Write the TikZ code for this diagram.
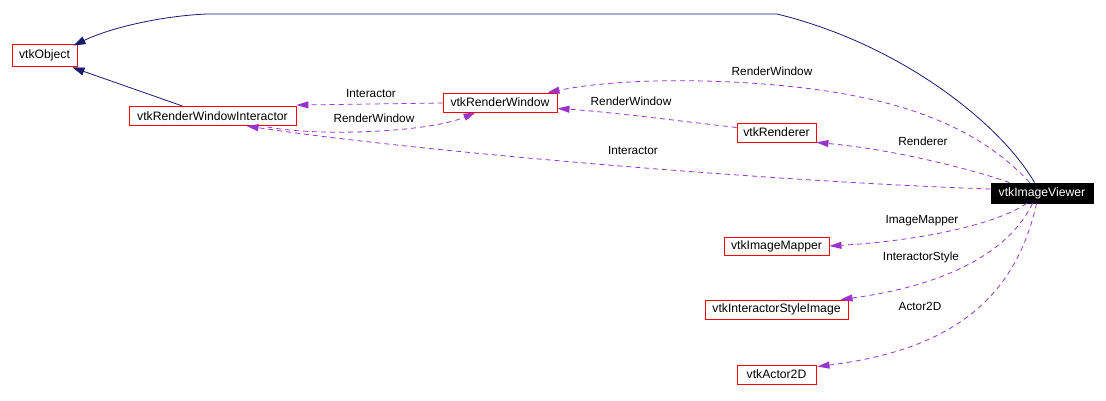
\documentclass[tikz,border=0pt]{standalone}
\usepackage{fontspec}
\setmainfont{Liberation Sans}
\usetikzlibrary{arrows.meta,calc}
\definecolor{navyc}{RGB}{25,25,112}
\definecolor{purpc}{RGB}{154,50,205}
\tikzset{
  cls/.style={draw=red, line width=0.9pt, inner sep=0pt, fill=white, text=black, font=\fontsize{12.2}{14}\selectfont},
  lbl/.style={inner sep=0pt, font=\fontsize{11.8}{14}\selectfont},
  inh/.style={draw=navyc, line width=0.8pt, -{Triangle[length=12pt,width=8pt]}},
  use/.style={draw=purpc, line width=0.8pt, dash pattern=on 5pt off 4pt, -{Triangle[length=12pt,width=7pt]}}
}
\begin{document}
\begin{tikzpicture}[x=1pt,y=-1pt]
\useasboundingbox (0,0) rectangle (1106,400);
% nodes
\node[cls, minimum width=65pt, minimum height=22pt] (obj) at (44.5,55) {vtkObject};
\node[cls, minimum width=167pt, minimum height=19pt] (rwi) at (212.5,116) {vtkRenderWindowInteractor};
\node[cls, minimum width=114pt, minimum height=19pt] (rw) at (500,102.5) {vtkRenderWindow};
\node[cls, minimum width=79pt, minimum height=19pt] (ren) at (776.5,132.5) {vtkRenderer};
\node[cls, draw=black, fill=black, text=white, minimum width=102pt, minimum height=20pt] (iv) at (1042,193) {vtkImageViewer};
\node[cls, minimum width=105pt, minimum height=18pt] (im) at (776.5,246) {vtkImageMapper};
\node[cls, minimum width=143pt, minimum height=19pt] (isi) at (776.5,309.5) {vtkInteractorStyleImage};
\node[cls, minimum width=79pt, minimum height=19pt] (a2d) at (776.5,374.5) {vtkActor2D};
% inheritance
\draw[inh] ($(iv.north west)+(44,0)$) .. controls (1000,123) and (900,44) .. (777,14) -- (207,14) .. controls (160,16) and (110,28) .. ($(obj.north east)+(-4,2)$);
\draw[inh] ($(rwi.north west)+(54,0)$) -- ($(obj.south east)+(-5,1)$);
% usage
\draw[use] ($(rw.west)+(0,0.5)$) -- ($(rwi.north east)+(0,-1)$);
\node[lbl] (l1) at (371,93) {Interactor};
\draw[use] ($(rwi.south east)+(-29,1)$) .. controls (320,137) and (430,132) .. ($(rw.south west)+(33,0)$);
\node[lbl] (l2) at (374,118) {RenderWindow};
\draw[use] ($(iv.north west)+(39,0)$) .. controls (1000,150) and (950,115) .. (860,97) .. controls (780,80) and (640,74) .. ($(rw.north east)+(-10,0)$);
\node[lbl] (l3) at (772,71) {RenderWindow};
\draw[use] ($(ren.west)+(0,-5)$) .. controls (680,121) and (610,112) .. ($(rw.south east)+(0,-4)$);
\node[lbl] (l4) at (631,101) {RenderWindow};
\draw[use] ($(iv.north west)+(19,0)$) .. controls (980,172) and (900,150) .. (ren.south east);
\node[lbl] (l5) at (923,141) {Renderer};
\draw[use] ($(iv.west)+(0,-4)$) .. controls (780,182) and (420,152) .. ($(rwi.south west)+(118,0)$);
\node[lbl] (l6) at (633,150) {Interactor};
\draw[use] ($(iv.south west)+(36,0)$) .. controls (1000,222) and (930,240) .. (im.east);
\node[lbl] (l7) at (922,221) {ImageMapper};
\draw[use] ($(iv.south west)+(42,0)$) .. controls (1010,250) and (950,285) .. ($(isi.north east)+(-8,0)$);
\node[lbl] (l8) at (921,257) {InteractorStyle};
\draw[use] ($(iv.south west)+(46,0)$) .. controls (1015,300) and (950,350) .. ($(a2d.north east)+(1,2)$);
\node[lbl] (l9) at (920,306) {Actor2D};
\end{tikzpicture}
\end{document}
